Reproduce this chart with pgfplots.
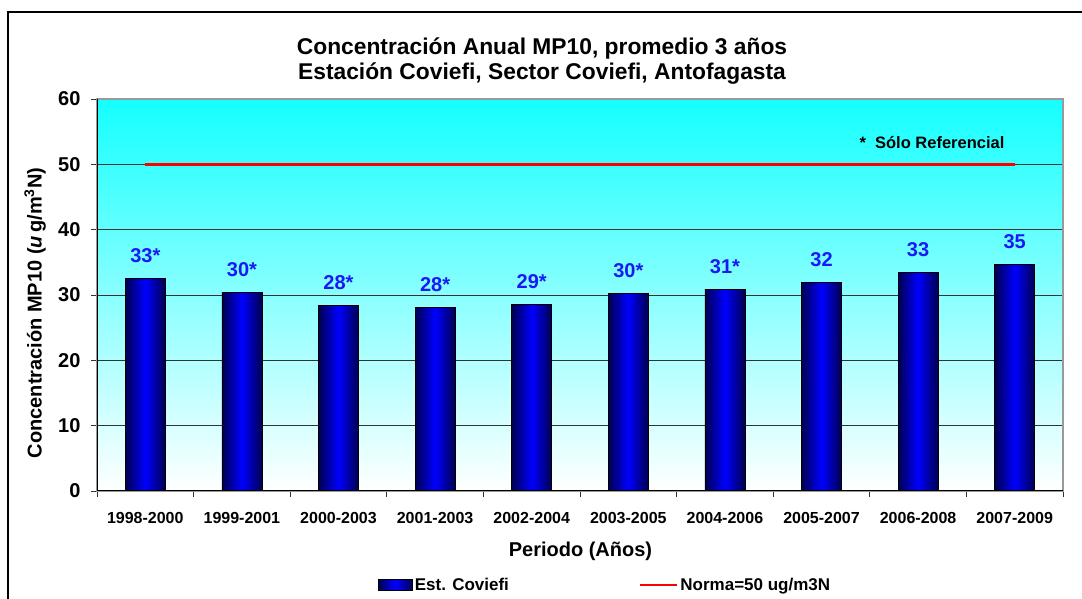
\documentclass[border=0pt]{standalone}
\usepackage{fontspec}
\setmainfont{Liberation Sans}
\usepackage{pgfplots}
\usepackage{pgfplotstable}
\pgfplotsset{compat=1.18}
\definecolor{barDark}{RGB}{0,0,80}
\definecolor{barMid}{RGB}{0,0,255}
\definecolor{lblBlue}{RGB}{25,25,245}
\definecolor{bgTop}{RGB}{20,255,255}
\pgfplotsset{
  barlegend/.style={legend image code/.code={\draw[##1] (0pt,-5pt) rectangle (34pt,6pt);}},
  linelegend/.style={legend image code/.code={\draw[##1] (0pt,0pt) -- (37pt,0pt);}},
  mybar/.style={ybar, bar shift=0pt, bar width=40pt, draw=black, line width=0.8pt,
    left color=barDark, right color=barDark, middle color=barMid,
    nodes near coords, point meta=explicit symbolic,
    every node near coord/.append style={fill=none, draw=none, text=lblBlue,
      font=\fontsize{20}{24}\bfseries, anchor=south, yshift=12pt}},
}
\pgfplotstableread{
x y label
0 32.6 33*
1 30.4 30*
2 28.4 28*
3 28.1 28*
4 28.6 29*
5 30.2 30*
6 30.9 31*
7 31.9 32
8 33.4 33
9 34.7 35
}\datatable
\begin{document}
\begin{tikzpicture}[x=1pt,y=1pt]
\path[use as bounding box] (0,0) rectangle (1082,599);
\draw[line width=2pt] (7.5,-20) -- (7.5,586.5) -- (1100,586.5);
\begin{axis}[at={(97pt,108pt)}, anchor=south west, scale only axis,
  width=966pt, height=392pt,
  xmin=-0.5, xmax=9.5, ymin=0, ymax=60,
  ytick={0,10,...,60},
  xtick={-0.5,0.5,...,9.5},
  xticklabels={1998-2000,1999-2001,2000-2003,2001-2003,2002-2004,2003-2005,2004-2006,2005-2007,2006-2008,2007-2009,},
  tick align=outside, tick pos=left, major tick length=6pt,
  tick style={black!80, line width=0.8pt},
  /pgf/number format/assume math mode=true,
  x tick label style={xshift=48.3pt, yshift=-12pt, font=\fontsize{16}{19}\bfseries},
  y tick label style={xshift=-7pt, font=\fontsize{20}{24}\bfseries},
  ymajorgrids, grid style={black!80, line width=0.8pt},
  axis line style={draw=black!40, line width=1.2pt},
  axis background/.style={top color=bgTop, bottom color=white},
  legend style={at={(axis description cs:0.526,-0.24)}, anchor=center,
    draw=none, fill=none, legend columns=2,
    font=\fontsize{17}{19}\bfseries,
    /tikz/every even column/.append style={column sep=128pt}},
]
\addplot[mybar, barlegend] table[x=x, y=y, meta=label, restrict x to domain=0:0] {\datatable};
\addlegendentry{Est. Coviefi}
\addplot[red, line width=2.5pt, sharp plot, linelegend]
  coordinates {(0,50) (9,50)};
\addlegendentry{Norma=50 ug/m3N}
\pgfplotsinvokeforeach{1,...,9}{
  \addplot[mybar, forget plot] table[x=x, y=y, meta=label, restrict x to domain=#1:#1] {\datatable};
}
\draw[black, line width=1.2pt] (rel axis cs:0,1) -- (rel axis cs:0,0) -- (rel axis cs:1,0);
\end{axis}
\node[align=center, font=\fontsize{22.8}{25}\bfseries] at (542,537.5)
  {Concentración Anual MP10, promedio 3 años\\Estación Coviefi, Sector Coviefi, Antofagasta};
\node[rotate=90, font=\fontsize{20}{24}\bfseries] at (35,286)
  {Concentración MP10 (\textit{u}\,g/m\textsuperscript{3}N)};
\node[font=\fontsize{20}{24}\bfseries] at (580.5,48) {Periodo (Años)};
\node[font=\fontsize{16.5}{19}\bfseries] at (932,456) {*\ \ Sólo Referencial};
\end{tikzpicture}
\end{document}
